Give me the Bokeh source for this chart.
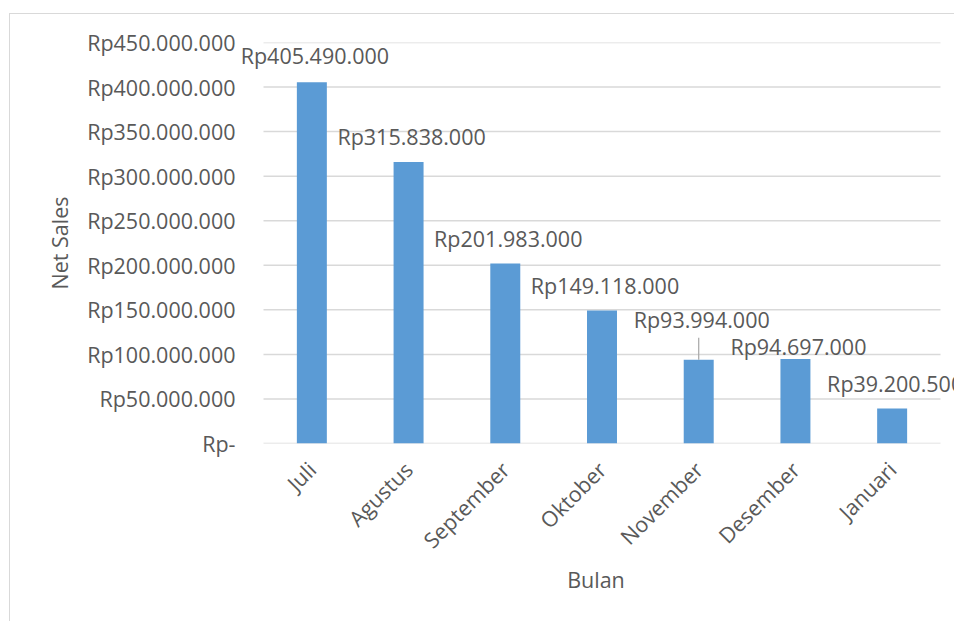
from bokeh.plotting import figure
from bokeh.models import ColumnDataSource, FixedTicker, CustomJSTickFormatter, LabelSet, Range1d
from bokeh.core.properties import value
from bokeh.embed import file_html
from bokeh.resources import INLINE
from math import pi

bulan = ["Juli", "Agustus", "September", "Oktober", "November", "Desember", "Januari"]
net_sales = [405490000, 315838000, 201983000, 149118000, 93994000, 94697000, 39200500]
label_text = ["Rp405.490.000", "Rp315.838.000", "Rp201.983.000", "Rp149.118.000",
              "Rp93.994.000", "Rp94.697.000", "Rp39.200.500"]
y_ticks = [0, 50000000, 100000000, 150000000, 200000000, 250000000,
           300000000, 350000000, 400000000, 450000000]

# label placement styles (pixels above bar top, to the text baseline)
label_dy = [18, 17, 17, 17, 32, 4, 17]

FONT = "Open Sans"
FS = "21.5px"
TXT = "#595959"
GRID = "#d9d9d9"
BAR = "#5b9bd5"

n = len(bulan)
xpos = [i + 0.5 for i in range(n)]
src = ColumnDataSource(dict(x=xpos, bulan=bulan, val=net_sales, txt=label_text, dy=label_dy))

# frame spans wider than the category area so that data labels are not clipped
px_per_cat = 677.0 / n
p = figure(x_range=Range1d(-27.0 / px_per_cat, n + 15.0 / px_per_cat),
           y_range=Range1d(0, 450000000),
           width=945, height=608, output_backend="svg", toolbar_location=None,
           min_border_left=226, min_border_top=28, min_border_right=0, min_border_bottom=179)
p.margin = (13, 0, 0, 9)
p.styles = {"border-left": "1px solid #d9d9d9", "border-top": "1px solid #d9d9d9"}
p.outline_line_color = None
p.background_fill_color = "white"
p.border_fill_color = "white"
p.xgrid.grid_line_color = None
p.ygrid.grid_line_color = None

# horizontal gridlines over the category area only
p.segment(x0=[0] * len(y_ticks), x1=[n] * len(y_ticks), y0=y_ticks, y1=y_ticks,
          line_color=GRID, line_width=1.5)

p.vbar(x="x", top="val", width=0.31, source=src, fill_color=BAR, line_color=None)

# leader line for November label
y_per_px = 450000000 / 401.0
nov = bulan.index("November")
p.segment(x0=[xpos[nov]], y0=[net_sales[nov]], x1=[xpos[nov]],
          y1=[net_sales[nov] + 22 * y_per_px], line_color="#a6a6a6", line_width=1.2)

labels = LabelSet(x="x", y="val", text="txt", source=src, x_offset=3, y_offset="dy",
                  text_align="center", text_baseline="alphabetic",
                  text_font=value(FONT), text_font_size=FS, text_color=TXT)
p.add_layout(labels)

p.yaxis.ticker = FixedTicker(ticks=y_ticks)
p.yaxis.formatter = CustomJSTickFormatter(code="""
if (tick == 0) { return "Rp-"; }
return "Rp" + Math.round(tick).toString().replace(/\\B(?=(\\d{3})+(?!\\d))/g, ".");
""")
p.xaxis.ticker = FixedTicker(ticks=xpos)
p.xaxis.formatter = CustomJSTickFormatter(args=dict(names=bulan),
                                          code="return names[Math.floor(tick)];")

for ax in (p.xaxis, p.yaxis):
    ax.axis_line_color = None
    ax.major_tick_line_color = None
    ax.minor_tick_line_color = None
    ax.major_tick_out = 0
    ax.major_tick_in = 0
    ax.minor_tick_out = 0
    ax.minor_tick_in = 0
    ax.major_label_text_font = FONT
    ax.major_label_text_font_size = FS
    ax.major_label_text_color = TXT
    ax.axis_label_text_font = FONT
    ax.axis_label_text_font_size = FS
    ax.axis_label_text_color = TXT
    ax.axis_label_text_font_style = "normal"

p.yaxis.major_label_standoff = 1
p.yaxis.axis_label = "Net Sales"
p.yaxis.axis_label_standoff = 10

p.xaxis.major_label_orientation = pi / 4
p.xaxis.major_label_standoff = 22
p.xaxis.axis_label = "Bulan"
p.xaxis.axis_label_standoff = -2

open("out.html", "w").write(file_html(p, INLINE))
